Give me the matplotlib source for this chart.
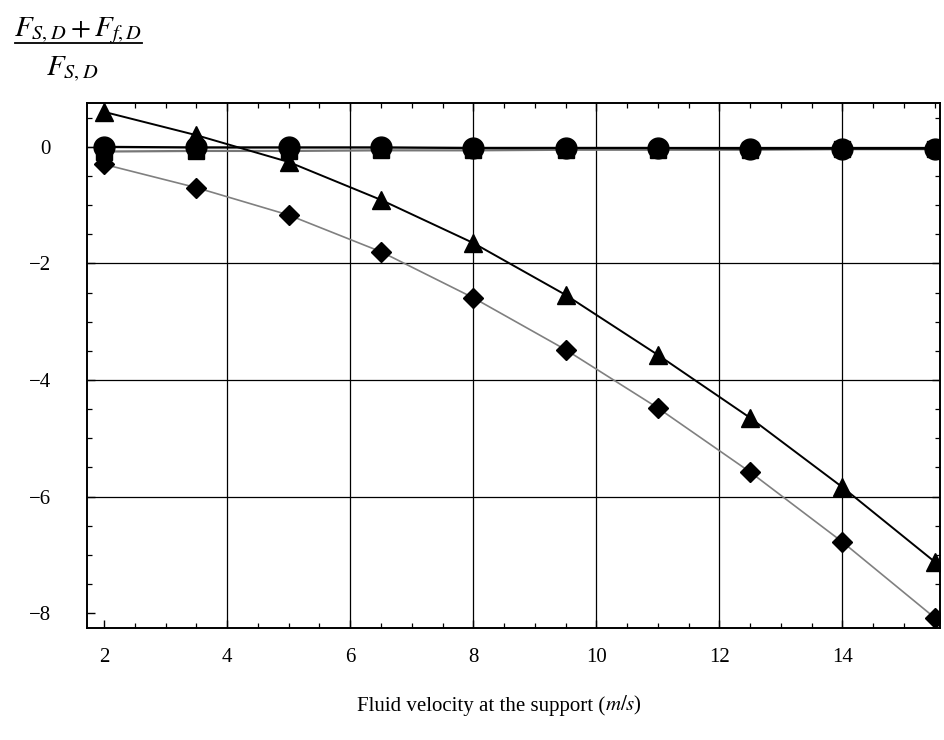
import matplotlib.pyplot as plt
from matplotlib.ticker import MultipleLocator
from matplotlib.lines import Line2D

plt.rcParams['font.family'] = ['Liberation Serif', 'DejaVu Serif']
plt.rcParams['mathtext.fontset'] = 'stix'

# fluid velocity at the support (m/s)
velocity = [2, 3.5, 5, 6.5, 8, 9.5, 11, 12.5, 14, 15.5]

# normalized force ratios for each case
ratio_triangle = [0.6, 0.2, -0.26, -0.91, -1.65, -2.54, -3.57, -4.65, -5.84, -7.12]
ratio_diamond = [-0.3, -0.7, -1.17, -1.8, -2.59, -3.48, -4.48, -5.58, -6.78, -8.08]
ratio_circle = [0.0, -0.01, -0.01, -0.01, -0.02, -0.02, -0.02, -0.03, -0.03, -0.03]
ratio_square = [-0.08, -0.07, -0.07, -0.06, -0.06, -0.05, -0.05, -0.05, -0.04, -0.04]

xticks = [2, 4, 6, 8, 10, 12, 14]
yticks = [0, -2, -4, -6, -8]
xgrid = [4, 6, 8, 10, 12, 14]
ygrid = [0, -2, -4, -6]

fig = plt.figure(figsize=(9.45, 7.4), dpi=100)
ax = fig.add_axes([0.092, 0.151, 0.903, 0.710])

for g in xgrid:
    ax.axvline(g, color='black', lw=0.9, zorder=1)
for g in ygrid:
    ax.axhline(g, color='black', lw=0.9, zorder=1)

ax.plot(velocity, ratio_square, color='#777777', lw=1.6, marker='s', ms=11,
        mfc='black', mec='black', zorder=3)
ax.plot(velocity, ratio_circle, color='black', lw=1.6, marker='o', ms=15,
        mfc='black', mec='black', zorder=4)
ax.plot(velocity, ratio_diamond, color='#808080', lw=1.2, marker='D', ms=10,
        mfc='black', mec='black', zorder=3)
ax.plot(velocity, ratio_triangle, color='black', lw=1.4, marker='^', ms=13,
        mfc='black', mec='black', zorder=5)

ax.set_xlim(1.72, 15.59)
ax.set_ylim(-8.26, 0.755)
ax.set_xticks(xticks)
ax.set_yticks(yticks)
ax.set_yticklabels(['0', '\u22122', '\u22124', '\u22126', '\u22128'])
ax.xaxis.set_minor_locator(MultipleLocator(0.5))
ax.yaxis.set_minor_locator(MultipleLocator(0.5))
ax.tick_params(which='both', direction='in', top=True, right=True,
               labeltop=False, labelright=False, labelsize=15, color='black')
ax.tick_params(which='major', length=6, width=1.0)
ax.tick_params(axis='x', which='major', pad=14)
ax.tick_params(axis='y', which='major', pad=26)
ax.tick_params(which='minor', length=3.5, width=0.9)
for s in ax.spines.values():
    s.set_linewidth(1.4)

# y label as a stacked fraction in the top-left corner
fig.text(0.083, 0.958, r'$F_{S,D}+F_{f,D}$', fontsize=21, ha='center', va='center')
fig.add_artist(Line2D([0.016, 0.150], [0.942, 0.942], color='black', lw=1.3,
                      transform=fig.transFigure))
fig.text(0.076, 0.906, r'$F_{S,D}$', fontsize=21, ha='center', va='center')

fig.text(0.64, 0.046, 'Fluid velocity at the support (', fontsize=15, ha='right', va='center')
fig.text(0.64, 0.046, r'$\mathit{m/s}$)', fontsize=15, ha='left', va='center')

fig.savefig('out.png', dpi=100)
